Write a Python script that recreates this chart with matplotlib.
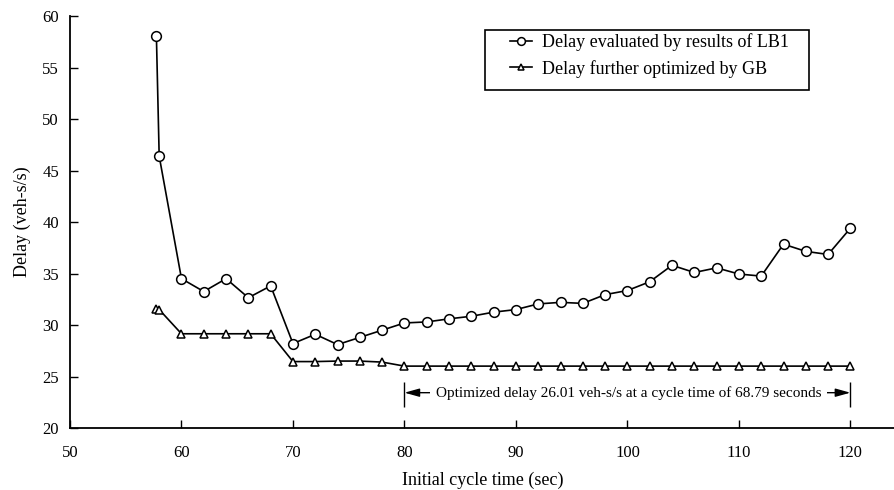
import matplotlib
matplotlib.use('Agg')
import matplotlib.pyplot as plt
from matplotlib.patches import Rectangle

plt.rcParams['font.family'] = ['Liberation Serif', 'DejaVu Serif']

# LB1 evaluated delay
cycle_lb1 = [57.75, 58, 60, 62, 64, 66, 68, 70, 72, 74, 76, 78, 80, 82, 84, 86, 88, 90,
             92, 94, 96, 98, 100, 102, 104, 106, 108, 110, 112, 114, 116, 118, 120]
delay_lb1 = [58.1, 46.4, 34.5, 33.25, 34.5, 32.65, 33.8, 28.2, 29.1, 28.1, 28.8, 29.5, 30.2,
             30.3, 30.6, 30.85, 31.25, 31.5, 32.05, 32.2, 32.1, 32.95, 33.35, 34.2, 35.8,
             35.1, 35.55, 34.95, 34.75, 37.85, 37.15, 36.85, 39.4]

# GB further optimized delay
cycle_gb = cycle_lb1
delay_gb = [31.6, 31.5, 29.15, 29.15, 29.15, 29.15, 29.15, 26.45, 26.45, 26.5, 26.5, 26.4,
            26.01, 26.01, 26.01, 26.01, 26.01, 26.01, 26.01, 26.01, 26.01, 26.01, 26.01,
            26.01, 26.01, 26.01, 26.01, 26.01, 26.01, 26.01, 26.01, 26.01, 26.01]

note = 'Optimized delay 26.01 veh-s/s at a cycle time of 68.79 seconds'

fig = plt.figure(figsize=(8.95, 4.9), dpi=100)
ax = fig.add_axes([0.0782, 0.1265, 0.9218, 0.8408])

ax.plot(cycle_lb1, delay_lb1, color='black', lw=1.2, marker='o', ms=7,
        mfc='white', mec='black', mew=1.1, label='Delay evaluated by results of LB1')
ax.plot(cycle_gb, delay_gb, color='black', lw=1.2, marker='^', ms=5.5,
        mfc='white', mec='black', mew=1.1, label='Delay further optimized by GB')

# annotation arrow with end bars
ax.annotate('', xy=(80, 23.43), xytext=(120, 23.43),
            arrowprops=dict(arrowstyle='<|-|>,head_length=0.9,head_width=0.25',
                            color='black', lw=1, mutation_scale=10,
                            shrinkA=0, shrinkB=0))
ax.vlines([80, 120], 22.0, 24.5, color='black', lw=1)
ax.text(100.1, 23.43, note, ha='center', va='center', fontsize=11,
        bbox=dict(facecolor='white', edgecolor='none', pad=4))

ax.set_xlim(50, 124)
ax.set_ylim(20, 60)
ax.set_xticks(range(50, 121, 10))
ax.set_yticks(range(20, 61, 5))
ax.spines['top'].set_visible(False)
ax.spines['right'].set_visible(False)
ax.spines['left'].set_linewidth(1.3)
ax.spines['bottom'].set_linewidth(1.3)
ax.tick_params(direction='in', length=6, width=1, labelsize=12, pad=12)
ax.tick_params(axis='y', pad=8)

ax.set_xlabel('Initial cycle time (sec)', fontsize=13, labelpad=8)
ax.set_ylabel('Delay (veh-s/s)', fontsize=13, labelpad=8)

# legend box drawn separately for its wider side padding
fig.patches.append(Rectangle((485 / 895, 1 - 90 / 490), 324 / 895, 60 / 490,
                             transform=fig.transFigure, fill=False,
                             edgecolor='black', lw=1.2))
ax.legend(loc='upper left', bbox_to_anchor=(510 / 895, 1 - 33 / 490),
          bbox_transform=fig.transFigure, fontsize=13, frameon=False,
          handlelength=1.2, handletextpad=0.55, borderpad=0, borderaxespad=0,
          labelspacing=0.5, markerscale=0.8)

fig.savefig('out.png', dpi=100)
